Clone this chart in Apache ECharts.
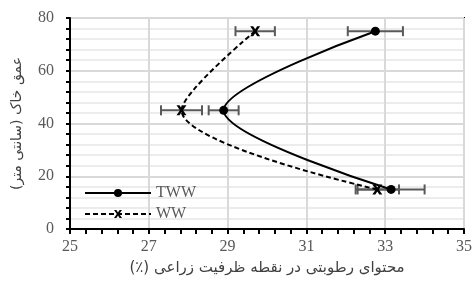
<!DOCTYPE html>
<html>
<head>
<meta charset="utf-8">
<script src="https://cdn.jsdelivr.net/npm/echarts@6/dist/echarts.min.js"></script>
<style>
  html, body { margin: 0; padding: 0; background: #fff; }
  #chart { width: 476px; height: 282px; }
</style>
</head>
<body>
<div id="chart"></div>
<script>
// depth (cm) and moisture content (%)
const depths = [75, 45, 15];
const twwValues = [32.75, 28.9, 33.15];
const twwErr = [0.7, 0.38, 0.85];
const wwValues = [29.7, 27.83, 32.8];
const wwErr = [0.5, 0.52, 0.55];
const xTicks = [25, 27, 29, 31, 33, 35];
const yTicks = [0, 20, 40, 60, 80];

const RLM = '\u200F';
const xSymbol = 'path://M0,0 L3,0 L5,3 L7,0 L10,0 L6.5,5 L10,10 L7,10 L5,7 L3,10 L0,10 L3.5,5 Z';

const pts = (xs) => xs.map((x, i) => [x, depths[i]]);
const errPts = (xs, es) => xs.map((x, i) => [x - es[i], x + es[i], depths[i]]);

const errorBars = (data) => ({
  type: 'custom',
  silent: true,
  z: 3,
  renderItem: (params, api) => {
    const a = api.coord([api.value(0), api.value(2)]);
    const b = api.coord([api.value(1), api.value(2)]);
    const h = 5;
    const style = { stroke: '#595959', lineWidth: 2 };
    return {
      type: 'group',
      children: [
        { type: 'line', shape: { x1: a[0], y1: a[1], x2: b[0], y2: b[1] }, style },
        { type: 'line', shape: { x1: a[0], y1: a[1] - h, x2: a[0], y2: a[1] + h }, style },
        { type: 'line', shape: { x1: b[0], y1: b[1] - h, x2: b[0], y2: b[1] + h }, style }
      ]
    };
  },
  encode: { x: [0, 1], y: 2 },
  data
});

const chart = echarts.init(document.getElementById('chart'));
const labelFont = { color: '#595959', fontFamily: 'Liberation Serif', fontSize: 16 };

chart.setOption({
  animation: false,
  grid: { left: 70, right: 12, top: 18, bottom: 53, show: true, borderColor: '#000', borderWidth: 2 },
  legend: {
    orient: 'vertical',
    left: 79,
    top: 180,
    itemWidth: 66,
    itemHeight: 10,
    itemGap: 5,
    textStyle: { color: '#595959', fontFamily: 'Liberation Serif', fontSize: 16 },
    data: ['TWW', 'WW']
  },
  xAxis: {
    type: 'value', min: xTicks[0], max: xTicks[xTicks.length - 1], interval: 2,
    name: RLM + 'محتوای رطوبتی در نقطه ظرفیت زراعی (٪)' + RLM,
    nameLocation: 'middle', nameGap: 32,
    nameTextStyle: { color: '#404040', fontFamily: 'DejaVu Sans', fontSize: 15 },
    axisLine: { lineStyle: { color: '#000', width: 2 } },
    axisTick: { show: true, length: 5, lineStyle: { color: '#000', width: 2 } },
    minorTick: { show: true, splitNumber: 5, length: 5, lineStyle: { color: '#000', width: 2 } },
    axisLabel: { ...labelFont, margin: 10 },
    splitLine: { lineStyle: { color: '#d9d9d9', width: 2 } }
  },
  yAxis: {
    type: 'value', min: yTicks[0], max: yTicks[yTicks.length - 1], interval: 20,
    name: RLM + 'عمق خاک (سانتی متر)' + RLM,
    nameLocation: 'middle', nameGap: 46,
    nameTextStyle: { color: '#404040', fontFamily: 'DejaVu Sans', fontSize: 14 },
    axisLine: { lineStyle: { color: '#000', width: 2 } },
    axisTick: { show: true, length: 4, lineStyle: { color: '#000', width: 2 } },
    minorTick: { show: true, splitNumber: 5, length: 4, lineStyle: { color: '#000', width: 2 } },
    axisLabel: { ...labelFont, margin: 16 },
    splitLine: { lineStyle: { color: '#d9d9d9', width: 2 } },
    minorSplitLine: { show: true, lineStyle: { color: '#ececec', width: 2 } }
  },
  series: [
    errorBars(errPts(twwValues, twwErr)),
    errorBars(errPts(wwValues, wwErr)),
    {
      name: 'TWW', type: 'line', smooth: 0.33, z: 4,
      symbol: 'circle', symbolSize: 9,
      itemStyle: { color: '#000' },
      lineStyle: { color: '#000', width: 2 },
      data: pts(twwValues)
    },
    {
      name: 'WW', type: 'line', smooth: 0.33, z: 4,
      symbol: xSymbol, symbolSize: 10,
      itemStyle: { color: '#000' },
      lineStyle: { color: '#000', width: 2, type: [5, 3] },
      data: pts(wwValues)
    }
  ]
});
</script>
</body>
</html>
